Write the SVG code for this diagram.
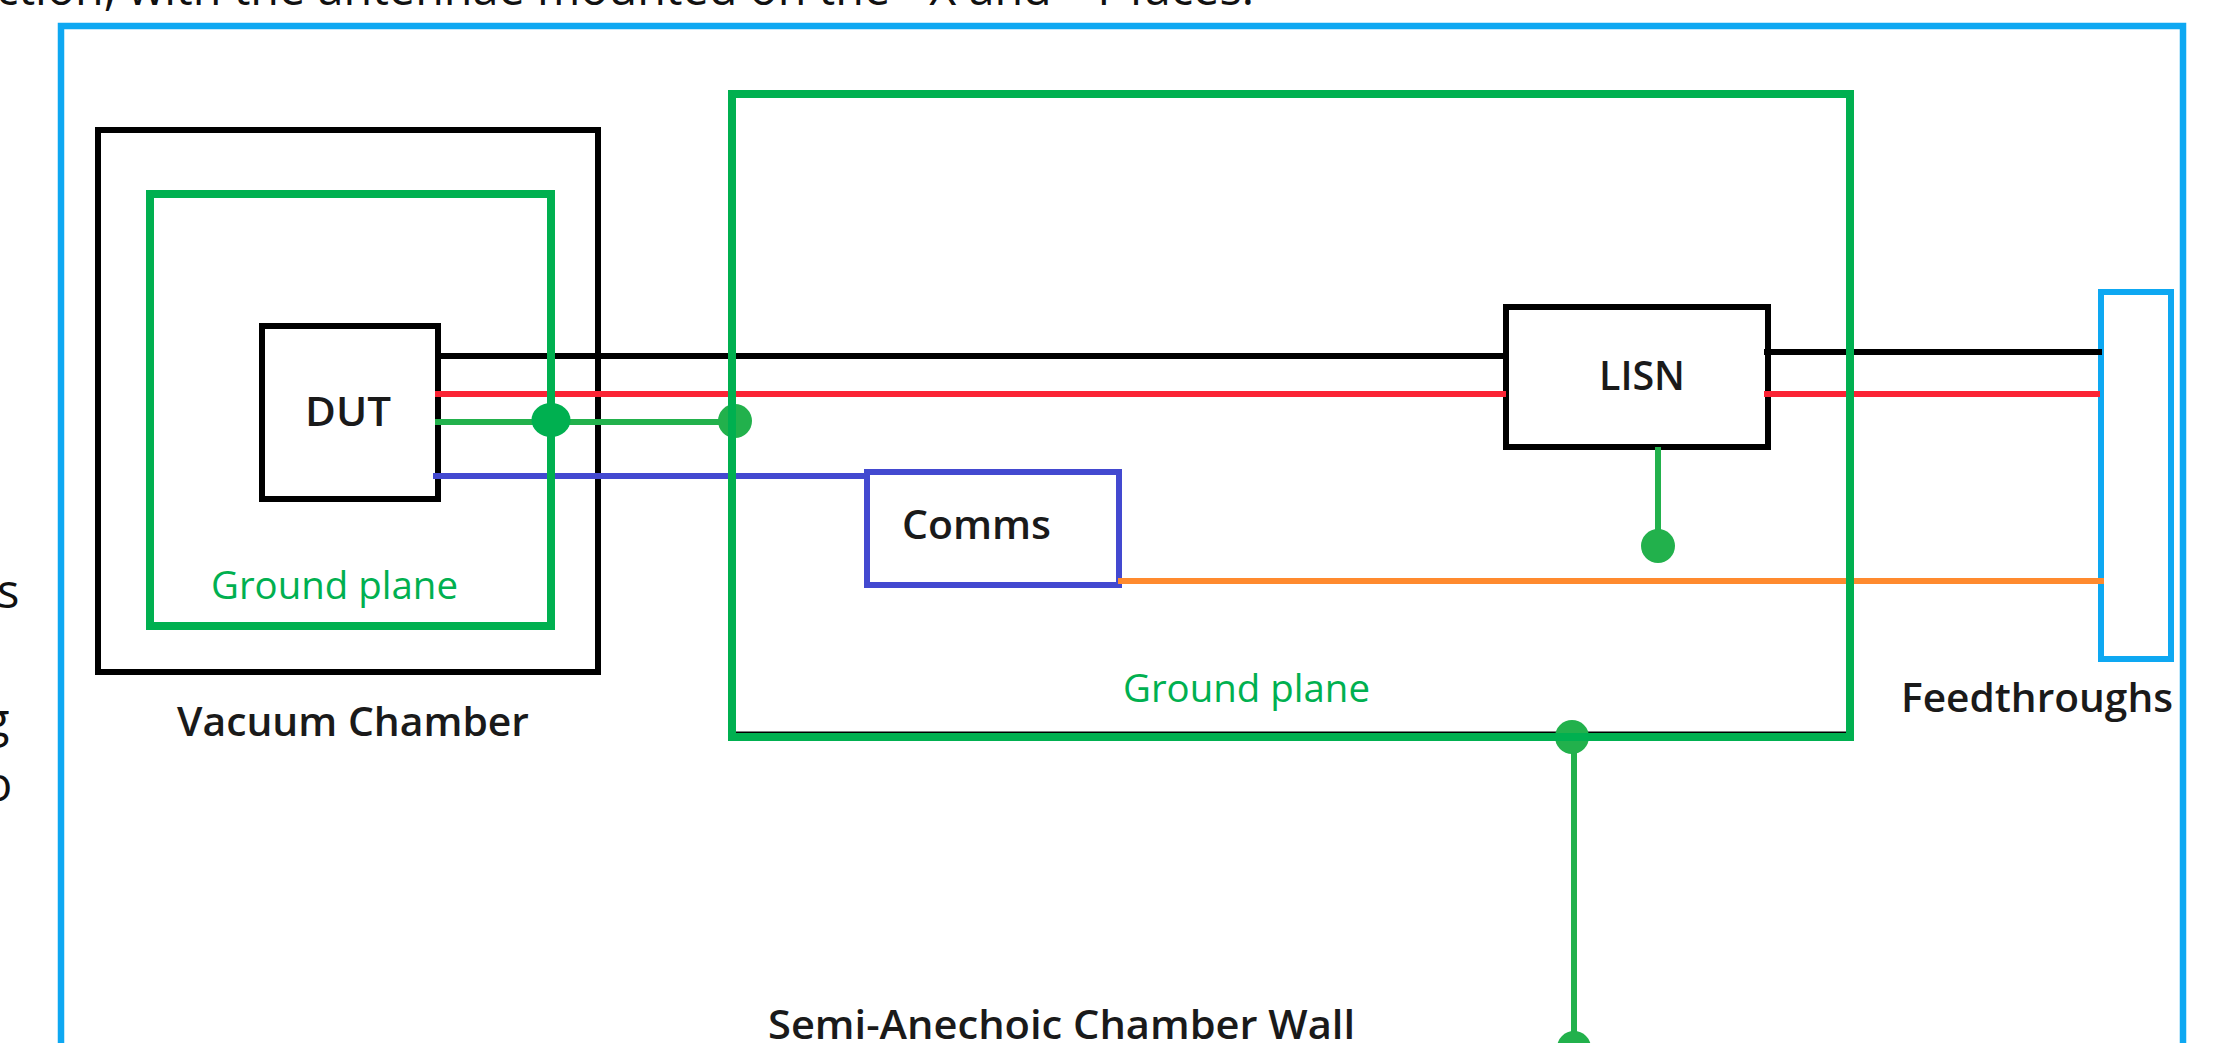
<svg xmlns="http://www.w3.org/2000/svg" width="2214" height="1043" viewBox="0 0 2214 1043">
<style>
.box{fill:none}
.k{stroke:#000}
.g{stroke:#00b050}
.c{stroke:#0ea8f2}
.t{font-family:"Open Sans","Liberation Sans",sans-serif;font-size:39px;font-weight:600;fill:#1a1a1a}
.gt{font-family:"Open Sans","Liberation Sans",sans-serif;font-size:38px;fill:#00b050}
.b{font-family:"Open Sans","Liberation Sans",sans-serif;font-size:47px;fill:#111}
.w{stroke-width:6;fill:none}
.dot{fill:#22b14c}
</style>
<rect width="2214" height="1043" fill="#fff"/>
<text class="b" x="-4" y="5" textLength="1258" lengthAdjust="spacingAndGlyphs">ction, with the antennae mounted on the +X and +Y faces.</text>
<text class="b" x="-3" y="608">s</text>
<text class="b" x="-16" y="737">g</text>
<text class="b" x="-16" y="801">o</text>
<g id="semi-anechoic-wall"><rect class="box c" x="61" y="26" width="2122" height="1060" stroke-width="6.5"/><text class="t" x="768" y="1039" textLength="587" lengthAdjust="spacingAndGlyphs">Semi-Anechoic Chamber Wall</text></g>
<g id="vacuum-chamber"><rect class="box k" x="98" y="130" width="500" height="542" stroke-width="6"/><text class="t" x="177" y="736" textLength="352" lengthAdjust="spacingAndGlyphs">Vacuum Chamber</text></g>
<g id="dut"><rect class="box k" x="262" y="326" width="176" height="173" stroke-width="6"/><text class="t" x="305" y="426" textLength="86" lengthAdjust="spacingAndGlyphs">DUT</text></g>
<g id="comms"><rect class="box" stroke="#4349d0" x="867" y="472" width="252" height="113" stroke-width="6"/><text class="t" x="902" y="539" textLength="149" lengthAdjust="spacingAndGlyphs">Comms</text></g>
<g id="lisn"><rect class="box k" x="1506" y="307" width="262" height="140" stroke-width="6"/><text class="t" x="1599" y="390" textLength="86" lengthAdjust="spacingAndGlyphs">LISN</text></g>
<g id="feedthroughs"><rect class="box c" x="2101" y="292" width="70" height="367" stroke-width="6"/><text class="t" x="1901" y="712" textLength="272" lengthAdjust="spacingAndGlyphs">Feedthroughs</text></g>
<g id="connectors">
<line class="k w" x1="438" y1="356" x2="1506" y2="356"/>
<line class="w" x1="435" y1="394" x2="1506" y2="394" stroke="#fb2334"/>
<line class="w" x1="435" y1="422" x2="735" y2="422" stroke="#22b14c"/>
<line class="w" x1="433" y1="476" x2="867" y2="476" stroke="#4349d0"/>
<line class="k w" x1="1764" y1="352" x2="2102" y2="352"/>
<line class="w" x1="1764" y1="394" x2="2100" y2="394" stroke="#fb2334"/>
<line class="w" x1="1118" y1="581" x2="2104" y2="581" stroke="#ff8a2e"/>
<line class="w" x1="1658" y1="447" x2="1658" y2="546" stroke="#22b14c"/>
<line class="w" x1="1574" y1="737" x2="1574" y2="1043" stroke="#22b14c"/>
<line class="k" x1="732" y1="733" x2="1850" y2="733" stroke-width="3"/>
<ellipse cx="551" cy="420" rx="19.5" ry="17" fill="#00b050"/>
<circle class="dot" cx="735" cy="421" r="17"/>
<circle class="dot" cx="1658" cy="546" r="17"/>
<circle class="dot" cx="1572" cy="737" r="17"/>
<circle class="dot" cx="1574" cy="1048" r="17"/>
</g>
<g id="ground-plane-inner"><rect class="box g" x="150" y="194" width="401" height="432" stroke-width="8"/><text class="gt" x="211" y="599" textLength="247" lengthAdjust="spacingAndGlyphs">Ground plane</text></g>
<g id="ground-plane-outer"><rect class="box g" x="732" y="94" width="1118" height="643" stroke-width="8"/><text class="gt" x="1123" y="702" textLength="247" lengthAdjust="spacingAndGlyphs">Ground plane</text></g>
</svg>
